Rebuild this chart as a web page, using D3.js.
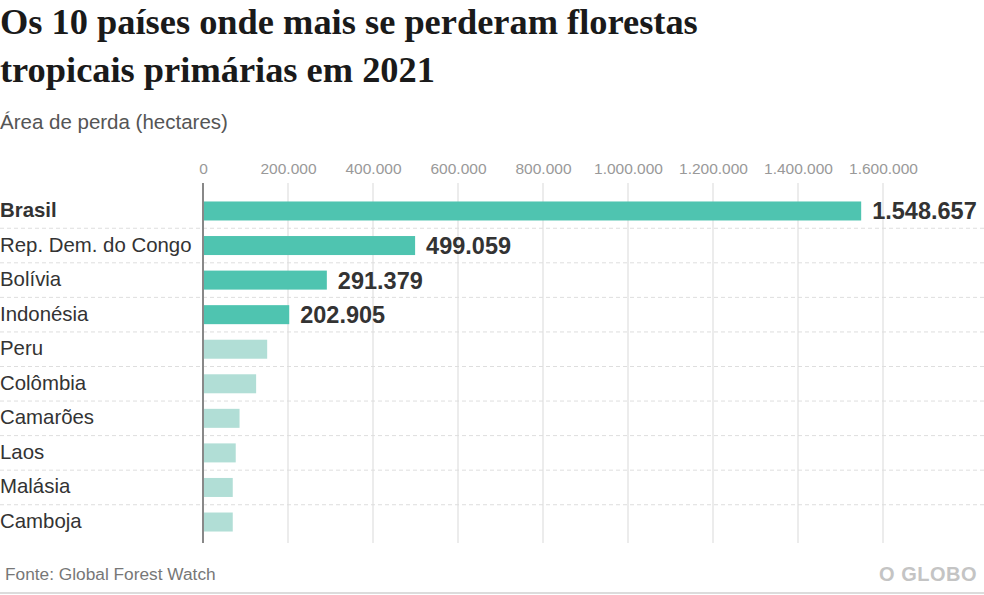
<!DOCTYPE html>
<html>
<head>
<meta charset="utf-8">
<script src="https://cdn.jsdelivr.net/npm/d3@7"></script>
<style>
  html, body { margin: 0; padding: 0; background: #fff; }
  svg { display: block; }
</style>
</head>
<body>
<svg id="chart" width="984" height="595"></svg>
<script>
// ---- Data ----
const countries = ["Brasil", "Rep. Dem. do Congo", "Bolívia", "Indonésia", "Peru", "Colômbia", "Camarões", "Laos", "Malásia", "Camboja"];
const values = [1548657, 499059, 291379, 202905, 151000, 125000, 86000, 77000, 70000, 70000];
const highlighted = [true, true, true, true, false, false, false, false, false, false];
const tickValues = [0, 200000, 400000, 600000, 800000, 1000000, 1200000, 1400000, 1600000];
const titleLines = ["Os 10 países onde mais se perderam florestas", "tropicais primárias em 2021"];
const subtitle = "Área de perda (hectares)";
const source = "Fonte: Global Forest Watch";
const brand = "O GLOBO";

const data = countries.map((c, i) => ({ country: c, value: values[i], hl: highlighted[i] }));

const ptBR = d3.formatLocale({ decimal: ",", thousands: ".", grouping: [3], currency: ["R$", ""] });
const fmt = ptBR.format(",d");

const svg = d3.select("#chart");
const W = 984, H = 595;

// Title
svg.append("g").selectAll("text").data(titleLines).join("text")
  .attr("x", 0).attr("y", (d, i) => 34 + i * 48)
  .attr("font-family", "'Liberation Serif', 'Times New Roman', serif")
  .attr("font-weight", "bold").attr("font-size", 36.4).attr("fill", "#1a1a1a")
  .text(d => d);

svg.append("text").attr("x", 0).attr("y", 129)
  .attr("font-family", "'Liberation Sans', Arial, sans-serif")
  .attr("font-size", 20.5).attr("fill", "#555").text(subtitle);

// Scales
const x = d3.scaleLinear().domain([0, 1600000]).range([203, 883]);
const y = d3.scaleBand().domain(countries).range([193.7, 539.3]).paddingInner(0.45).paddingOuter(0.225);
const step = y.step();

const gridTop = 183, gridBottom = 543;

// Vertical gridlines
svg.append("g").selectAll("line").data(tickValues.filter(t => t > 0)).join("line")
  .attr("x1", d => x(d)).attr("x2", d => x(d))
  .attr("y1", gridTop).attr("y2", gridBottom)
  .attr("stroke", "#e6e6e6").attr("stroke-width", 1.5);

// Row separators (dashed)
svg.append("g").selectAll("line").data(countries.slice(1)).join("line")
  .attr("x1", 0).attr("x2", W)
  .attr("y1", d => y(d) - y.paddingInner() * step / 2)
  .attr("y2", d => y(d) - y.paddingInner() * step / 2)
  .attr("stroke", "#dedede").attr("stroke-width", 1).attr("stroke-dasharray", "4,3");

// Top axis via d3.axisTop
const axis = d3.axisTop(x).tickValues(tickValues).tickSize(0).tickPadding(0).tickFormat(d => fmt(d));
const ag = svg.append("g").attr("transform", "translate(0,174)").call(axis);
ag.select(".domain").remove();
ag.selectAll("text")
  .attr("font-family", "'Liberation Sans', Arial, sans-serif")
  .attr("font-size", 15.5).attr("fill", "#999").attr("dy", 0);

// Bars
svg.append("g").selectAll("rect").data(data).join("rect")
  .attr("x", x(0)).attr("y", d => y(d.country))
  .attr("width", d => x(d.value) - x(0))
  .attr("height", y.bandwidth())
  .attr("fill", d => d.hl ? "#4fc4b0" : "#b1ded6");

// Zero axis line
svg.append("line")
  .attr("x1", x(0)).attr("x2", x(0)).attr("y1", gridTop).attr("y2", gridBottom)
  .attr("stroke", "#888").attr("stroke-width", 2);

// Category labels
svg.append("g").selectAll("text").data(data).join("text")
  .attr("x", 0).attr("y", d => y(d.country) + y.bandwidth() / 2 + 6)
  .attr("font-family", "'Liberation Sans', Arial, sans-serif")
  .attr("font-size", 20.4).attr("fill", "#333")
  .attr("font-weight", (d, i) => i === 0 ? "bold" : "normal")
  .text(d => d.country);

// Value labels
svg.append("g").selectAll("text").data(data.filter(d => d.hl)).join("text")
  .attr("x", d => x(d.value) + 11).attr("y", d => y(d.country) + y.bandwidth() / 2 + 8.5)
  .attr("font-family", "'Liberation Sans', Arial, sans-serif")
  .attr("font-size", 23.5).attr("font-weight", "bold").attr("fill", "#333")
  .text(d => fmt(d.value));

// Footer
svg.append("text").attr("x", 5).attr("y", 580)
  .attr("font-family", "'Liberation Sans', Arial, sans-serif")
  .attr("font-size", 17.3).attr("fill", "#777").text(source);

svg.append("text").attr("x", 977).attr("y", 581).attr("text-anchor", "end")
  .attr("font-family", "'Liberation Sans', Arial, sans-serif")
  .attr("font-size", 20).attr("font-weight", "bold").attr("fill", "#c4c4c4")
  .attr("letter-spacing", 0.5)
  .text(brand);

svg.append("line").attr("x1", 0).attr("x2", W).attr("y1", 593).attr("y2", 593)
  .attr("stroke", "#dcdcdc").attr("stroke-width", 2);
</script>
</body>
</html>
